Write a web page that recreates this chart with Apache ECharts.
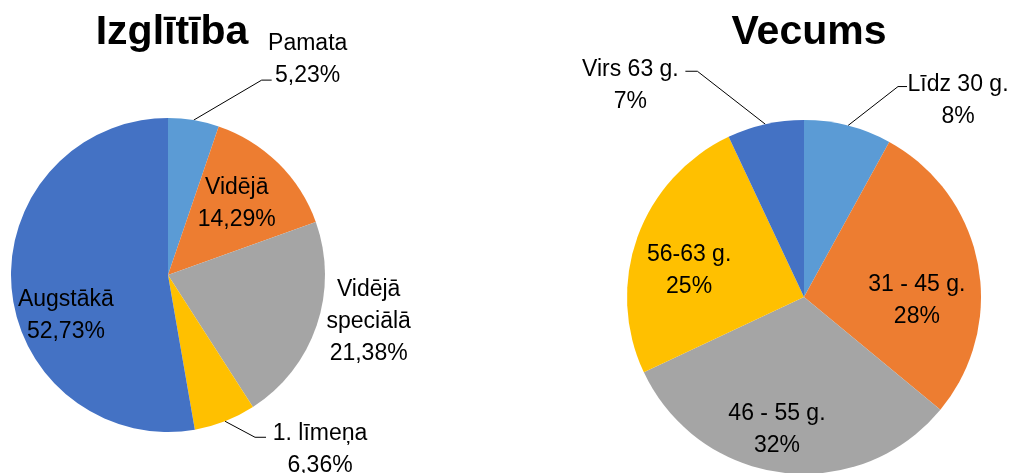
<!DOCTYPE html>
<html>
<head>
<meta charset="utf-8">
<script src="https://cdn.jsdelivr.net/npm/echarts@6/dist/echarts.min.js"></script>
<style>
  html, body { margin: 0; padding: 0; background: #fff; }
  #chart { width: 1014px; height: 473px; }
</style>
</head>
<body>
<div id="chart"></div>
<script>
// Izglītība
const eduNames = ['Pamata', 'Vidējā', 'Vidējā speciālā', '1. līmeņa', 'Augstākā']
const eduValues = [5.23, 14.29, 21.38, 6.36, 52.73]

// Vecums
const ageNames = ['Līdz 30 g.', '31 - 45 g.', '46 - 55 g.', '56-63 g.', 'Virs 63 g.']
const ageValues = [8, 28, 32, 25, 7]

const titles = ['Izglītība', 'Vecums']
const colors = ['#5B9BD5', '#ED7D31', '#A5A5A5', '#FFC000', '#4472C4']

const FONT = '"Liberation Sans", Arial, sans-serif'
const wrapNames = { 'Vidējā speciālā': 'Vidējā\nspeciālā' }

// labels placed outside the pie: leader line bend/end and text centre,
// as offsets from the point on the rim at the slice's mid angle
const outsideLayout = {
  'Pamata': { bend: [68, -40], end: [78, -40], text: [114, -60] },
  'Vidējā speciālā': { text: [52, -4] },
  '1. līmeņa': { bend: [30, 16], end: [41, 16], text: [95, 28] },
  'Līdz 30 g.': { bend: [50, -39], end: [59, -39], text: [110, -25] },
  'Virs 63 g.': { bend: [-68, -53], end: [-80, -53], text: [-135, -39] }
}
// small nudges for the labels that sit inside the slices
const insideNudge = {
  'Vidējā': [-6, 5],
  'Augstākā': [4, 32],
  '31 - 45 g.': [-5, 26],
  '46 - 55 g.': [-12, 14],
  '56-63 g.': [-2, 14]
}

const eduFmt = v => v.toFixed(2).replace('.', ',') + '%'
const ageFmt = v => v + '%'

const labelText = (fmt) => (p) => (wrapNames[p.name] || p.name) + '\n' + fmt(p.value)

const labelStyle = {
  fontFamily: FONT,
  fontSize: 23,
  lineHeight: 32,
  color: '#000'
}

// point on the rim at the middle of slice i
const rimPoint = (values, i, center, r) => {
  const total = values.reduce((a, b) => a + b, 0)
  const before = values.slice(0, i).reduce((a, b) => a + b, 0)
  const ang = (before + values[i] / 2) / total * Math.PI * 2
  return [center[0] + r * Math.sin(ang), center[1] - r * Math.cos(ang)]
}

const add = (p, o) => [p[0] + o[0], p[1] + o[1]]

// two pie series per chart: the filled pie with outside labels,
// and a transparent ring on top that carries the inside labels
const buildPie = (names, values, fmt, center, radius) => {
  const isOut = n => !!outsideLayout[n]
  const main = {
    type: 'pie',
    center: center,
    radius: radius,
    startAngle: 90,
    clockwise: true,
    avoidLabelOverlap: false,
    emphasis: { disabled: true },
    itemStyle: { borderWidth: 0 },
    label: Object.assign({ position: 'outside', formatter: labelText(fmt) }, labelStyle),
    labelLine: { length: 20, length2: 10, lineStyle: { color: '#000', width: 1 } },
    labelLayout: (params) => {
      const n = names[params.dataIndex]
      const cfg = outsideLayout[n]
      if (!cfg) return {}
      const p0 = rimPoint(values, params.dataIndex, center, radius)
      const t = add(p0, cfg.text)
      const out = { x: t[0], y: t[1], align: 'center', verticalAlign: 'middle' }
      if (cfg.bend) out.labelLinePoints = [p0, add(p0, cfg.bend), add(p0, cfg.end)]
      return out
    },
    data: names.map((n, i) => ({
      name: n,
      value: values[i],
      itemStyle: { color: colors[i] },
      label: { show: isOut(n) },
      labelLine: { show: isOut(n) && !!outsideLayout[n].bend }
    }))
  }
  const overlay = {
    type: 'pie',
    center: center,
    radius: [Math.round(radius * 0.32), radius],
    startAngle: 90,
    clockwise: true,
    silent: true,
    z: 3,
    avoidLabelOverlap: false,
    emphasis: { disabled: true },
    itemStyle: { color: 'rgba(0,0,0,0)' },
    label: Object.assign({ position: 'inside', formatter: labelText(fmt) }, labelStyle),
    labelLine: { show: false },
    data: names.map((n, i) => ({
      name: n,
      value: values[i],
      label: { show: !isOut(n), offset: insideNudge[n] || [0, 0] }
    }))
  }
  return [main, overlay]
}

const chart = echarts.init(document.getElementById('chart'))

const titleStyle = { fontFamily: FONT, fontSize: 41, fontWeight: 'bold', color: '#000' }

chart.setOption({
  animation: false,
  title: [
    { text: titles[0], left: 167, top: 7, textAlign: 'center', textStyle: titleStyle },
    { text: titles[1], left: 804, top: 7, textAlign: 'center', textStyle: titleStyle }
  ],
  series: [
    ...buildPie(eduNames, eduValues, eduFmt, [168, 275], 157),
    ...buildPie(ageNames, ageValues, ageFmt, [804, 297], 177)
  ]
})

window.addEventListener('resize', () => chart.resize())
</script>
</body>
</html>
